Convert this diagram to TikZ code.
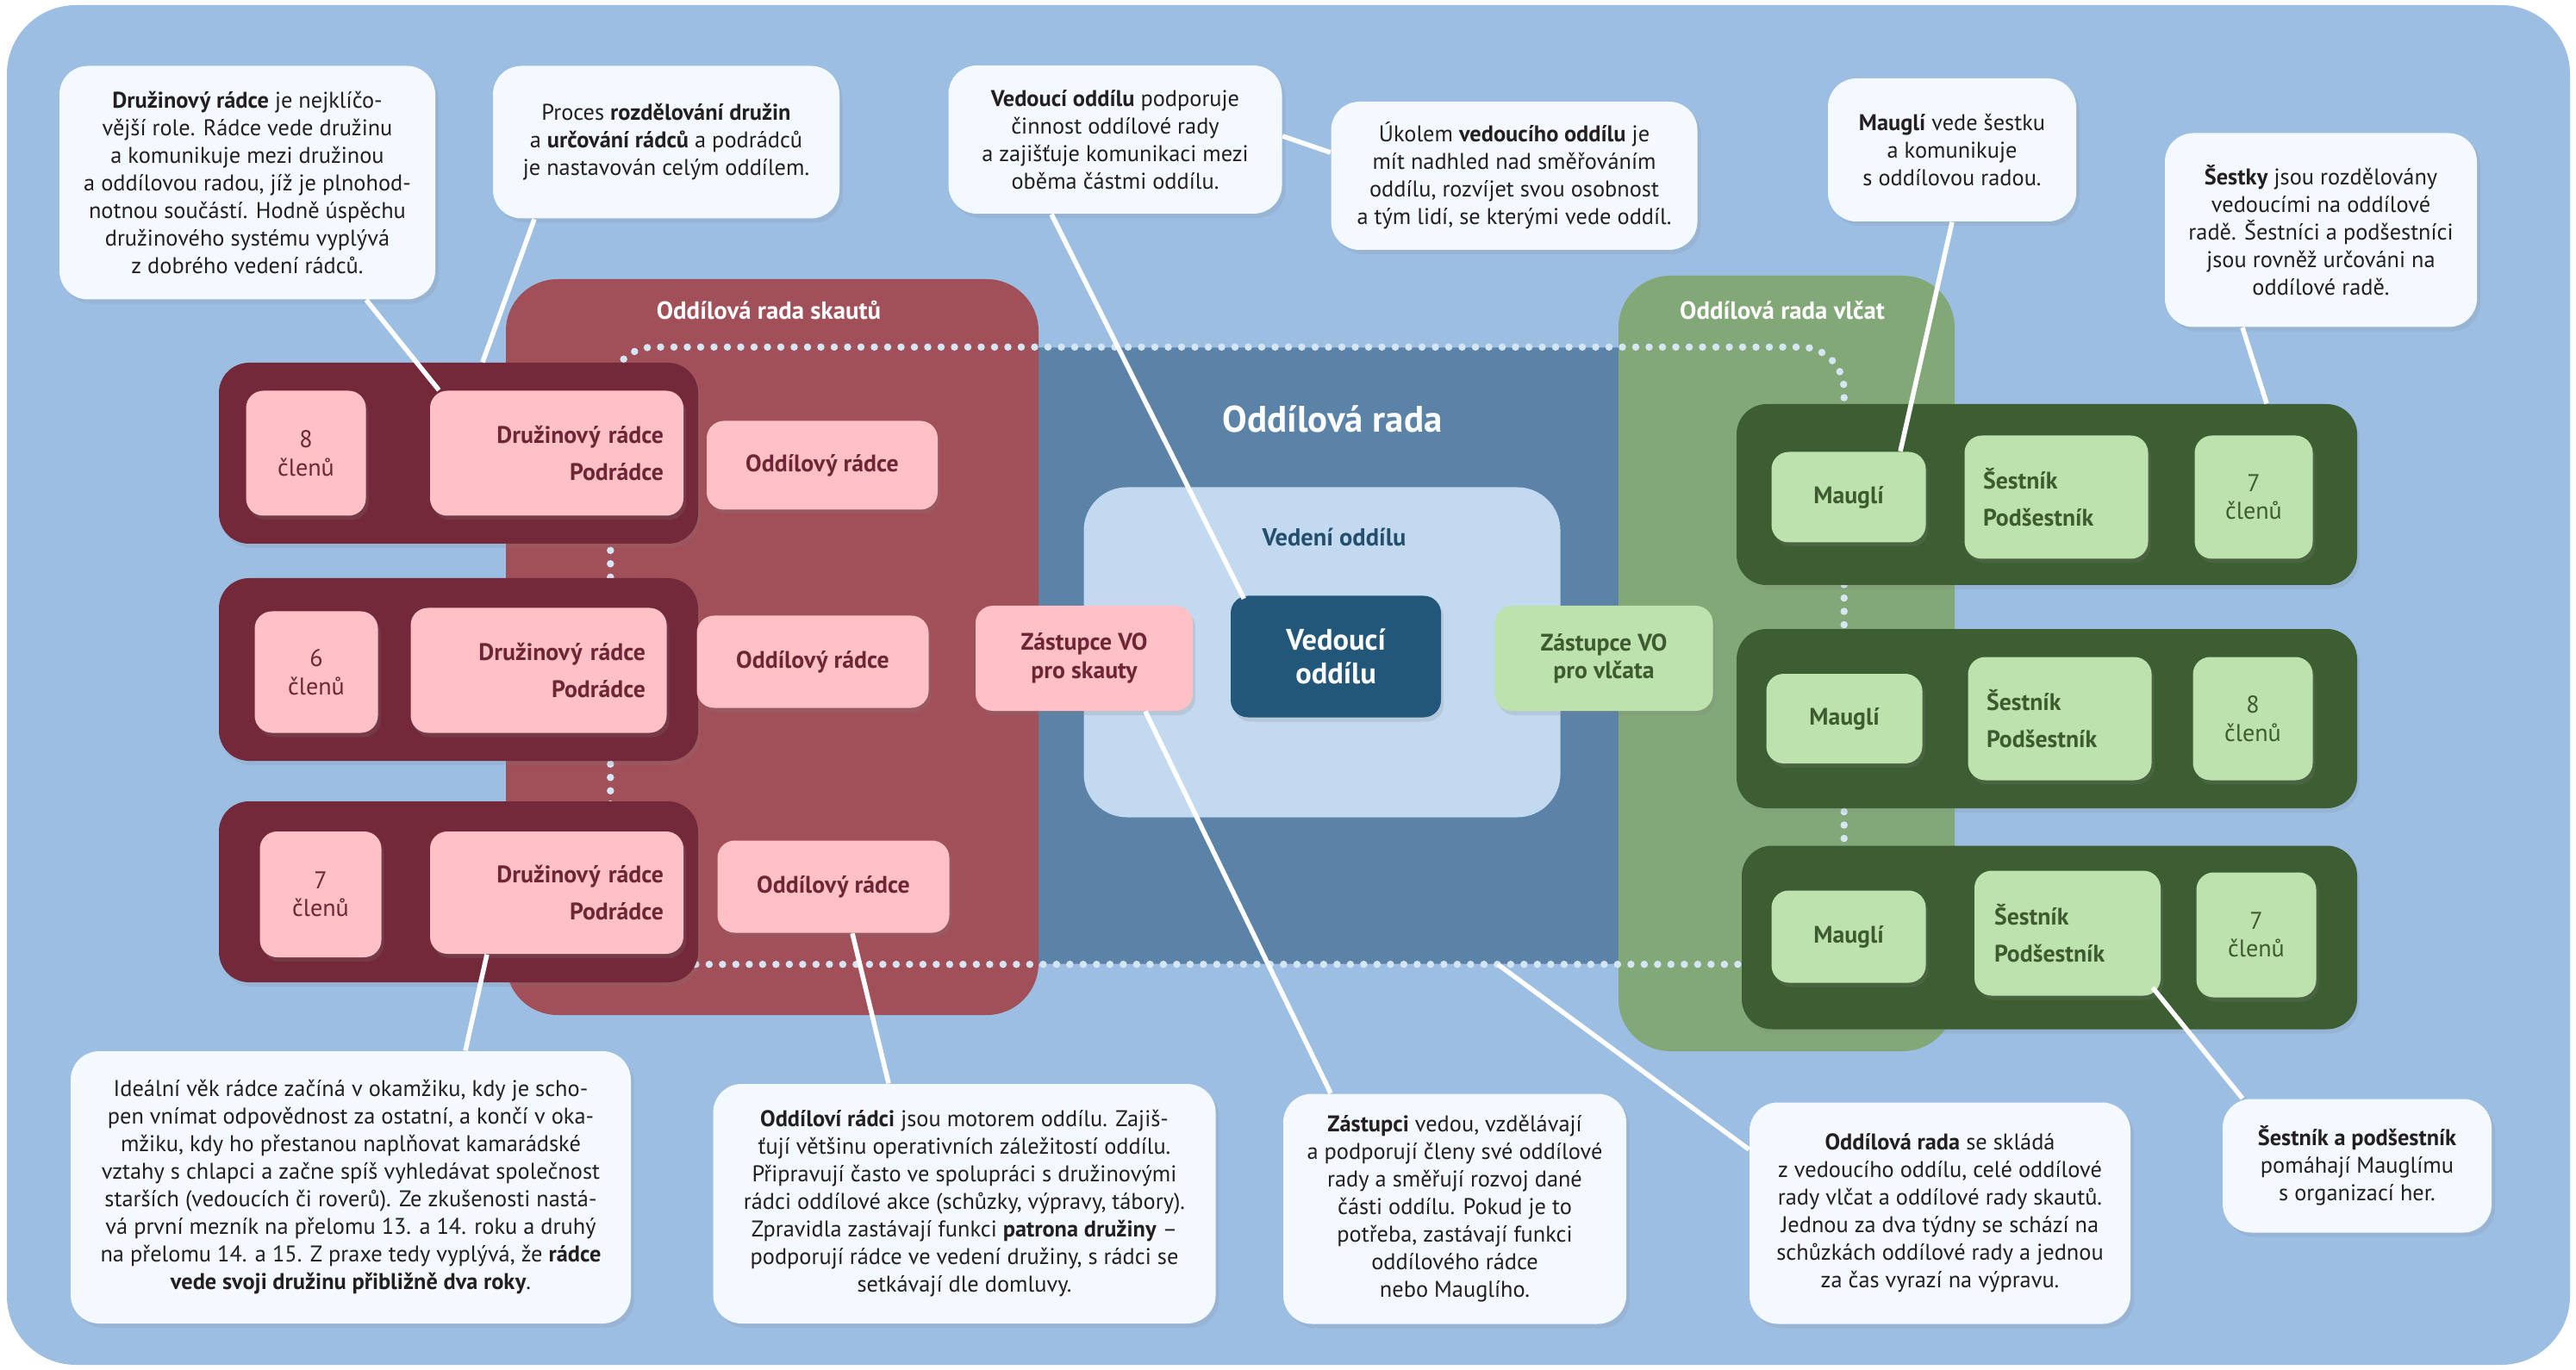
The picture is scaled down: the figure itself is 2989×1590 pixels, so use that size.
\documentclass[tikz,border=0pt]{standalone}
\usepackage{fontspec}
\setmainfont{PT Sans}
\usepackage{tikz}
\usetikzlibrary{positioning, shadows}

\definecolor{cBack}{HTML}{9CBEE3}
\definecolor{cRada}{HTML}{5B82A7}
\definecolor{cDots}{HTML}{D5E5F4}
\definecolor{cSkPanel}{HTML}{A14F58}
\definecolor{cSkBar}{HTML}{73293A}
\definecolor{cPink}{HTML}{FFC0C6}
\definecolor{cPinkText}{HTML}{6E2634}
\definecolor{cVlPanel}{HTML}{83A878}
\definecolor{cVlBar}{HTML}{3D5E33}
\definecolor{cGreen}{HTML}{BEE2AE}
\definecolor{cGreenText}{HTML}{3E5B30}
\definecolor{cVedeni}{HTML}{C3D9EF}
\definecolor{cVedeniText}{HTML}{244E6E}
\definecolor{cNavy}{HTML}{22577A}
\definecolor{cNote}{HTML}{F3F9FE}
\definecolor{cInk}{HTML}{231F20}

\tikzstyle{callout} = [fill=cNote, text=cInk, rounded corners=3.3mm, align=center, inner sep=0pt, font=\fontsize{7.5}{9.1}\selectfont, drop shadow={opacity=0.15, shadow xshift=0.4mm, shadow yshift=-0.5mm}]
\tikzstyle{link} = [draw=white, line width=0.55mm]
\tikzstyle{panel} = [rounded corners=6mm, inner sep=0pt]
\tikzstyle{skbar} = [fill=cSkBar, rounded corners=3.5mm, inner sep=0pt, drop shadow={opacity=0.15, shadow xshift=0.3mm, shadow yshift=-0.5mm}]
\tikzstyle{vlbar} = [skbar, fill=cVlBar]
\tikzstyle{skbox} = [fill=cPink, text=cPinkText, rounded corners=2mm, inner sep=0pt, align=center, font=\bfseries\fontsize{7.9}{9.2}\selectfont, drop shadow={opacity=0.2, shadow xshift=0.3mm, shadow yshift=-0.5mm}]
\tikzstyle{skcount} = [skbox, font=\fontsize{8}{9.2}\selectfont]
\tikzstyle{skleader} = [skbox, align=right, font=\bfseries\fontsize{7.9}{12.4}\selectfont, inner xsep=2.3mm, text width=24.8mm]
\tikzstyle{vlbox} = [skbox, fill=cGreen, text=cGreenText]
\tikzstyle{vlcount} = [vlbox, font=\fontsize{8}{9.2}\selectfont]
\tikzstyle{vlsix} = [vlbox, align=left, font=\bfseries\fontsize{7.9}{12.4}\selectfont, inner xsep=2.1mm, text width=17mm]
\tikzstyle{title} = [text=white, inner sep=0pt, font=\bfseries\fontsize{8.2}{9.5}\selectfont]

\begin{document}
\begin{tikzpicture}[x=0.1mm, y=-0.1mm]
  \useasboundingbox (0,0) rectangle (2989,1590);
  \fill[white] (0,0) rectangle (2989,1590);
  \fill[cBack, rounded corners=8mm] (8,6) rectangle (2982,1584);

  % Oddilova rada and the two parts
  \node[panel, fill=cRada, rounded corners=5mm, minimum width=143mm, minimum height=71.5mm] (rada) at (1424,761) {};
  \node[panel, fill=cSkPanel, minimum width=61.8mm, minimum height=85.4mm] (skpanel) at (896,751) {};
  \node[panel, fill=cVlPanel, minimum width=39mm, minimum height=90mm] (vlpanel) at (2073,770) {};
  \draw[cDots, line width=0.85mm, line cap=round, dash pattern=on 0pt off 1.55mm, rounded corners=5mm] (rada.north west) rectangle (rada.south east);

  \node[title] (sktitle) at (892,360) {Oddílová rada skautů};
  \node[title] (vltitle) at (2068,360) {Oddílová rada vlčat};
  \node[title, font=\bfseries\fontsize{12.2}{14}\selectfont] (radatitle) at (1546,486) {Oddílová rada};

  % Vedeni oddilu
  \node[panel, fill=cVedeni, rounded corners=5mm, minimum width=55.3mm, minimum height=38.3mm] (vedeni) at (1534,757) {};
  \node[title, text=cVedeniText, font=\bfseries\fontsize{8.1}{9.5}\selectfont] (vedenititle) at (1548,623) {Vedení oddílu};
  \node[skbox, fill=cNavy, text=white, font=\bfseries\fontsize{9.8}{11}\selectfont, minimum width=24.4mm, minimum height=14.1mm] (vo) at (1550,762) {Vedoucí\\oddílu};
  \node[skbox, minimum width=25.2mm, minimum height=12.2mm] (zs) at (1258,764) {Zástupce VO\\pro skauty};
  \node[vlbox, minimum width=25.3mm, minimum height=12.2mm] (zv) at (1861,764) {Zástupce VO\\pro vlčata};

  % Druziny
  \node[skbar, minimum width=55.6mm, minimum height=21mm] (sk1) at (532,526) {};
  \node[skcount, minimum width=13.9mm, minimum height=14.5mm] (cl1) at (355,526) {8\\členů};
  \node[skleader, minimum width=29.4mm, minimum height=14.5mm] (dr1) at (646,526) {Družinový rádce\\Podrádce};
  \node[skbox, minimum width=26.8mm, minimum height=10.3mm] (or1) at (954,540) {Oddílový rádce};

  \node[skbar, minimum width=55.6mm, minimum height=21.2mm] (sk2) at (532,777) {};
  \node[skcount, minimum width=14.3mm, minimum height=14.1mm] (cl2) at (367,780) {6\\členů};
  \node[skleader, minimum width=29.7mm, minimum height=14.5mm] (dr2) at (625,778) {Družinový rádce\\Podrádce};
  \node[skbox, minimum width=26.9mm, minimum height=10.7mm] (or2) at (943,768) {Oddílový rádce};

  \node[skbar, minimum width=55.6mm, minimum height=21mm] (sk3) at (532,1035) {};
  \node[skcount, minimum width=14.1mm, minimum height=14.6mm] (cl3) at (372,1038) {7\\členů};
  \node[skleader, minimum width=29.4mm, minimum height=14.2mm] (dr3) at (646,1036) {Družinový rádce\\Podrádce};
  \node[skbox, minimum width=26.9mm, minimum height=10.7mm] (or3) at (967,1029) {Oddílový rádce};

  % Sestky
  \node[vlbar, minimum width=72mm, minimum height=21mm] (vl1) at (2375,574) {};
  \node[vlbox, minimum width=17.9mm, minimum height=10.5mm] (m1) at (2145,577) {Mauglí};
  \node[vlsix, minimum width=21.3mm, minimum height=14.3mm] (s1) at (2386,577) {Šestník\\Podšestník};
  \node[vlcount, minimum width=13.7mm, minimum height=14.3mm] (n1) at (2615,577) {7\\členů};

  \node[vlbar, minimum width=72mm, minimum height=20.8mm] (vl2) at (2375,834) {};
  \node[vlbox, minimum width=18.1mm, minimum height=10.4mm] (m2) at (2140,834) {Mauglí};
  \node[vlsix, minimum width=21.3mm, minimum height=14.3mm] (s2) at (2390,834) {Šestník\\Podšestník};
  \node[vlcount, minimum width=13.9mm, minimum height=14.3mm] (n2) at (2614,834) {8\\členů};

  \node[vlbar, minimum width=71.4mm, minimum height=21.3mm] (vl3) at (2378,1088) {};
  \node[vlbox, minimum width=17.9mm, minimum height=10.7mm] (m3) at (2145,1087) {Mauglí};
  \node[vlsix, minimum width=21.6mm, minimum height=14.5mm] (s3) at (2399,1083) {Šestník\\Podšestník};
  \node[vlcount, minimum width=13.9mm, minimum height=14.5mm] (n3) at (2618,1085) {7\\členů};

  % Popisky
  \node[callout, minimum width=43.6mm, minimum height=27.1mm] (c1) at (287,212) {\textbf{Družinový rádce} je nejklíčo-\\vější role. Rádce vede družinu\\a komunikuje mezi družinou\\a oddílovou radou, jíž je plnohod-\\notnou součástí. Hodně úspěchu\\družinového systému vyplývá\\z dobrého vedení rádců.};
  \node[callout, minimum width=40.2mm, minimum height=17.7mm] (c2) at (773,165) {Proces \textbf{rozdělování družin}\\a \textbf{určování rádců} a podrádců\\je nastavován celým oddílem.};
  \node[callout, minimum width=38.7mm, minimum height=17.2mm] (c3) at (1294,162) {\textbf{Vedoucí oddílu} podporuje\\činnost oddílové rady\\a zajišťuje komunikaci mezi\\oběma částmi oddílu.};
  \node[callout, minimum width=42.5mm, minimum height=17.2mm] (c4) at (1757,204) {Úkolem \textbf{vedoucího oddílu} je\\mít nadhled nad směřováním\\oddílu, rozvíjet svou osobnost\\a tým lidí, se kterými vede oddíl.};
  \node[callout, minimum width=28.8mm, minimum height=16.6mm] (c5) at (2265,174) {\textbf{Mauglí} vede šestku\\a komunikuje\\s oddílovou radou.};
  \node[callout, minimum width=36.2mm, minimum height=22.5mm] (c6) at (2693,267) {\textbf{Šestky} jsou rozdělovány\\vedoucími na oddílové\\radě. Šestníci a podšestníci\\jsou rovněž určováni na\\oddílové radě.};
  \node[callout, minimum width=65mm, minimum height=31.6mm] (c7) at (407,1378) {Ideální věk rádce začíná v okamžiku, kdy je scho-\\pen vnímat odpovědnost za ostatní, a končí v oka-\\mžiku, kdy ho přestanou naplňovat kamarádské\\vztahy s chlapci a začne spíš vyhledávat společnost\\starších (vedoucích či roverů). Ze zkušenosti nastá-\\vá první mezník na přelomu 13. a 14. roku a druhý\\na přelomu 14. a 15. Z praxe tedy vyplývá, že \textbf{rádce}\\\textbf{vede svoji družinu přibližně dva roky}.};
  \node[callout, minimum width=58.3mm, minimum height=27.8mm] (c8) at (1119,1397) {\textbf{Oddíloví rádci} jsou motorem oddílu. Zajiš-\\ťují většinu operativních záležitostí oddílu.\\Připravují často ve spolupráci s družinovými\\rádci oddílové akce (schůzky, výpravy, tábory).\\Zpravidla zastávají funkci \textbf{patrona družiny} –\\podporují rádce ve vedení družiny, s rádci se\\setkávají dle domluvy.};
  \node[callout, minimum width=39.8mm, minimum height=26.7mm] (c9) at (1688,1403) {\textbf{Zástupci} vedou, vzdělávají\\a podporují členy své oddílové\\rady a směřují rozvoj dané\\části oddílu. Pokud je to\\potřeba, zastávají funkci\\oddílového rádce\\nebo Mauglího.};
  \node[callout, minimum width=44.2mm, minimum height=25.7mm] (c10) at (2251,1408) {\textbf{Oddílová rada} se skládá\\z vedoucího oddílu, celé oddílové\\rady vlčat a oddílové rady skautů.\\Jednou za dva týdny se schází na\\schůzkách oddílové rady a jednou\\za čas vyrazí na výpravu.};
  \node[callout, minimum width=31.2mm, minimum height=15.5mm] (c11) at (2735,1353) {\textbf{Šestník a podšestník}\\pomáhají Mauglímu\\s organizací her.};

  % Spojnice
  \draw[link] ([xshift=13.8mm]c1.south) -- ([xshift=1.1mm]dr1.north west);
  \draw[link] ([xshift=-15.3mm]c2.south) -- ([xshift=2.8mm]sk1.north);
  \draw[link] ([xshift=-7.4mm]c3.south) -- ([shift={(1.6mm,-0.4mm)}]vo.north west);
  \draw[link] ([yshift=0.4mm]c3.east) -- ([yshift=2.7mm]c4.west);
  \draw[link] (c5.south) -- ([xshift=6mm]m1.north);
  \draw[link] ([xshift=-9.1mm]c6.south) -- ([xshift=25.5mm]vl1.north);
  \draw[link] ([xshift=13.3mm]c7.north) -- ([xshift=-8.1mm]dr3.south);
  \draw[link] ([xshift=-8.8mm]c8.north) -- ([xshift=2.2mm]or3.south);
  \draw[link] ([xshift=-14.4mm]c9.north) -- ([xshift=7.1mm]zs.south);
  \draw[link] ([yshift=7.4mm]c10.west) -- ([xshift=31.4mm]rada.south);
  \draw[link] ([xshift=-13.3mm]c11.north) -- ([shift={(-1mm,1mm)}]s3.south east);
\end{tikzpicture}
\end{document}
